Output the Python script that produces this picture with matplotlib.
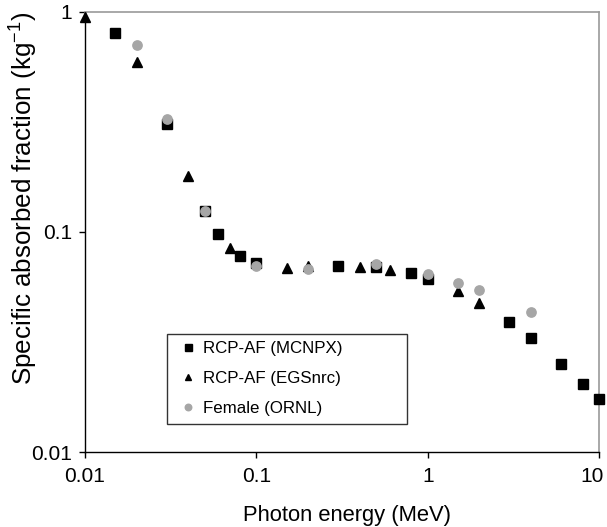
import matplotlib
matplotlib.use("Agg")
import matplotlib.pyplot as plt
from matplotlib.ticker import FixedLocator, NullLocator, FixedFormatter
from matplotlib.transforms import ScaledTranslation

plt.rcParams['font.family'] = ['Liberation Sans', 'DejaVu Sans']
plt.rcParams['mathtext.fontset'] = 'custom'
plt.rcParams['mathtext.rm'] = 'Liberation Sans'
plt.rcParams['mathtext.it'] = 'Liberation Sans'

# RCP-AF (MCNPX)
mcnpx_e = [0.015, 0.03, 0.05, 0.06, 0.08, 0.1, 0.3, 0.5, 0.8, 1.0, 3.0, 4.0, 6.0, 8.0, 10.0]
mcnpx_saf = [0.80, 0.31, 0.125, 0.098, 0.078, 0.072, 0.070, 0.069, 0.065, 0.061, 0.039, 0.033, 0.025, 0.0204, 0.0174]

# RCP-AF (EGSnrc)
egs_e = [0.01, 0.02, 0.04, 0.07, 0.15, 0.2, 0.4, 0.6, 1.5, 2.0]
egs_saf = [0.95, 0.59, 0.18, 0.085, 0.0686, 0.070, 0.069, 0.067, 0.054, 0.0476]

# Female (ORNL)
ornl_e = [0.02, 0.03, 0.05, 0.1, 0.2, 0.5, 1.0, 1.5, 2.0, 4.0]
ornl_saf = [0.71, 0.326, 0.125, 0.070, 0.068, 0.0716, 0.0645, 0.0586, 0.0545, 0.0433]

xticks = [0.01, 0.1, 1, 10]
xticklabels = ['0.01', '0.1', '1', '10']
yticks = [0.01, 0.1, 1]
yticklabels = ['0.01', '0.1', '1']

fig = plt.figure(figsize=(6.07, 5.27), dpi=100)
ax = fig.add_axes([0.140, 0.1423, 0.847, 0.835])

ax.plot(mcnpx_e, mcnpx_saf, 's', color='black', markersize=7.2, clip_on=False,
        label='RCP-AF (MCNPX)', zorder=3)
ax.plot(egs_e, egs_saf, '^', color='black', markersize=7, clip_on=False,
        label='RCP-AF (EGSnrc)', zorder=4)
ax.plot(ornl_e, ornl_saf, 'o', color='#a6a6a6', markersize=6.7, clip_on=False,
        label='Female (ORNL)', zorder=5)

ax.set_xscale('log')
ax.set_yscale('log')
ax.set_xlim(0.01, 10)
ax.set_ylim(0.01, 1)

ax.xaxis.set_major_locator(FixedLocator(xticks))
ax.xaxis.set_major_formatter(FixedFormatter(xticklabels))
ax.yaxis.set_major_locator(FixedLocator(yticks))
ax.yaxis.set_major_formatter(FixedFormatter(yticklabels))
ax.xaxis.set_minor_locator(NullLocator())
ax.yaxis.set_minor_locator(NullLocator())

ax.tick_params(axis='both', which='major', direction='out', length=4.5, width=1,
               labelsize=15, color='black')
ax.tick_params(axis='x', pad=6)
ax.tick_params(axis='y', pad=5)

for s in ['left', 'bottom']:
    ax.spines[s].set_color('black')
    ax.spines[s].set_linewidth(1)
for s in ['top', 'right']:
    ax.spines[s].set_color('#9a9a9a')
    ax.spines[s].set_linewidth(1.2)

ax.set_xlabel('Photon energy (MeV)', fontsize=15.8)
ax.xaxis.set_label_coords(0.51, -0.12)
ax.set_ylabel('Specific absorbed fraction (kg$^{-1}$)', fontsize=18.7)
ax.yaxis.set_label_coords(-0.088, 0.577)

leg = ax.legend(loc='lower left', bbox_to_anchor=(0.16, 0.064, 0.467, 0.207),
                mode='expand', fontsize=12.2, frameon=True, fancybox=False,
                handlelength=1.55, handletextpad=0.1, labelspacing=0.88,
                borderpad=0.45, borderaxespad=0, markerscale=0.7)
leg.get_frame().set_edgecolor('black')
leg.get_frame().set_linewidth(1)

# last x tick label sits a little left so it stays inside the picture
fig.canvas.draw()
last = ax.xaxis.get_major_ticks()[-1].label1
last.set_transform(last.get_transform() + ScaledTranslation(-5 / 72, 0, fig.dpi_scale_trans))

fig.savefig('out.png', dpi=100)
